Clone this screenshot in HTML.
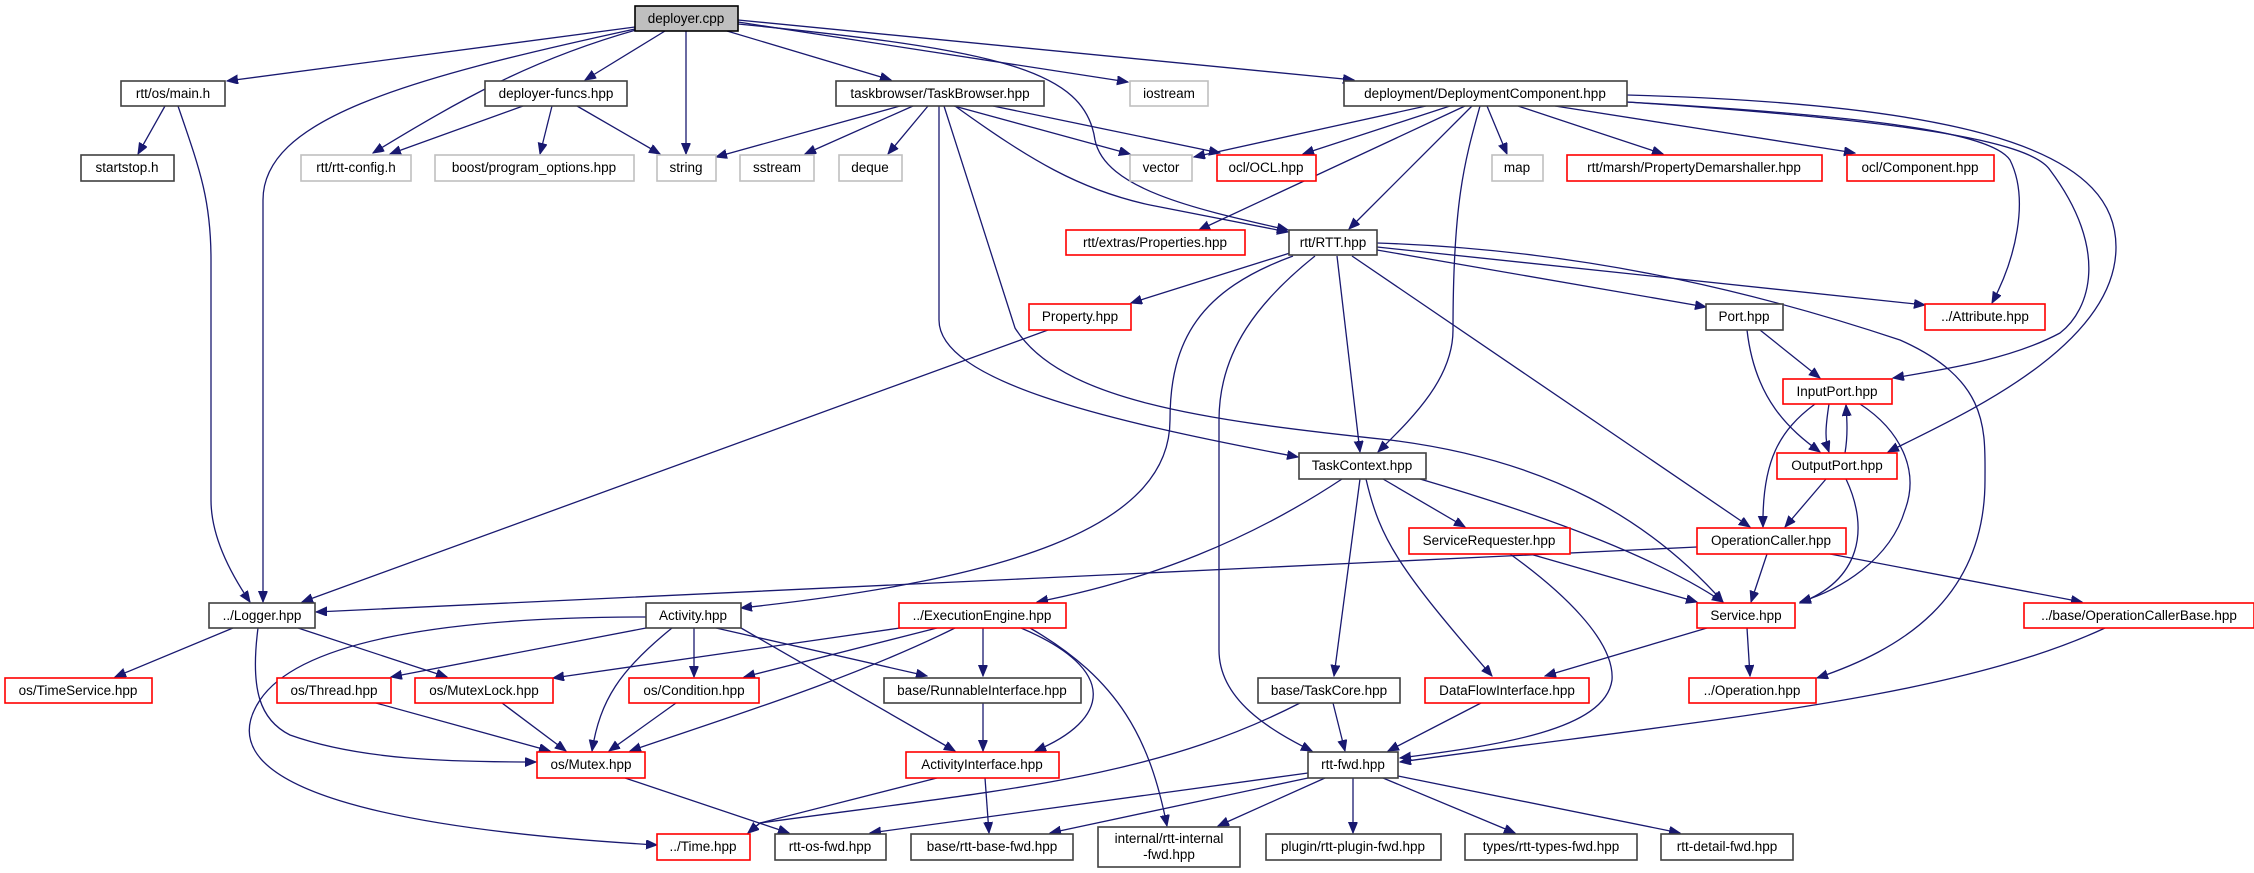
<!DOCTYPE html>
<html><head><meta charset="utf-8"><style>
html,body{margin:0;padding:0;background:#fff;}
svg{display:block;}
text{font-family:"Liberation Sans",sans-serif;font-size:13.5px;fill:#000;text-anchor:middle;}
.k{fill:#fff;stroke:#404040;stroke-width:1.6;}
.g{fill:#fff;stroke:#bfbfbf;stroke-width:1.6;}
.r{fill:#fff;stroke:#ff0000;stroke-width:1.6;}
.e path{fill:none;stroke:#191970;stroke-width:1.3;marker-end:url(#a);}
</style></head><body>
<svg width="2254" height="873" viewBox="0 0 2254 873" xmlns="http://www.w3.org/2000/svg">
<defs><marker id="a" markerUnits="userSpaceOnUse" markerWidth="12" markerHeight="10" refX="11" refY="4.5" orient="auto"><path d="M0,0 L11,4.5 L0,9 z" fill="#191970" stroke="#191970"/></marker></defs>
<g class="e">
<path d="M635,27 L227,81"/>
<path d="M635,29 C400,80 263,120 263,200 L263,602"/>
<path d="M178,106 C200,170 211,200 211,260 L211,500 C211,540 235,580 250,602"/>
<path d="M636,30 C530,60 460,100 373,153"/>
<path d="M665,31 L585,80"/>
<path d="M686,31 L686,154"/>
<path d="M727,31 L891,80"/>
<path d="M738,22 L1128,82"/>
<path d="M738,20 L1354,80"/>
<path d="M738,24 C1000,50 1085,70 1095,140 C1105,190 1200,210 1288,230"/>
<path d="M165,106 L138,154"/>
<path d="M523,106 L390,154"/>
<path d="M552,106 L540,154"/>
<path d="M577,106 L660,154"/>
<path d="M900,106 L716,157"/>
<path d="M913,106 L805,154"/>
<path d="M928,106 L888,154"/>
<path d="M954,106 L1130,154"/>
<path d="M993,106 L1220,153"/>
<path d="M955,106 C1030,160 1080,190 1150,205 L1288,232"/>
<path d="M939,106 L939,320 C939,380 1100,420 1298,457"/>
<path d="M944,106 L1015,328 C1060,400 1200,420 1390,440 C1550,460 1650,520 1723,602"/>
<path d="M1426,106 L1194,157"/>
<path d="M1450,106 L1303,154"/>
<path d="M1465,106 L1199,230"/>
<path d="M1472,106 L1349,229"/>
<path d="M1480,106 C1465,160 1453,200 1453,330 C1453,380 1410,420 1378,452"/>
<path d="M1487,106 L1507,154"/>
<path d="M1518,106 L1663,154"/>
<path d="M1555,106 L1855,153"/>
<path d="M1627,102 C1850,115 1990,130 2010,160 C2030,200 2015,260 1992,303"/>
<path d="M1627,102 C1900,120 2030,140 2050,170 C2110,250 2090,310 2060,333 C2010,360 1940,370 1893,378"/>
<path d="M1627,95 C2000,105 2116,160 2116,247 C2116,350 1950,420 1888,452"/>
<path d="M1290,253 L1131,303"/>
<path d="M1293,256 C1200,290 1170,340 1170,420 C1170,530 1000,580 741,608"/>
<path d="M1315,256 C1260,300 1219,350 1219,420 L1219,650 C1219,700 1270,730 1312,751"/>
<path d="M1337,256 L1360,452"/>
<path d="M1377,250 L1706,307"/>
<path d="M1377,247 L1925,305"/>
<path d="M1377,243 C1600,250 1780,300 1900,340 C1990,380 1985,430 1985,480 C1985,600 1900,650 1817,678"/>
<path d="M1352,256 L1750,527"/>
<path d="M1760,330 L1820,378"/>
<path d="M1747,330 C1755,400 1790,430 1820,452"/>
<path d="M1829,404 C1825,430 1825,440 1829,452"/>
<path d="M1845,453 C1848,435 1847,420 1846,405"/>
<path d="M1815,404 C1780,430 1762,460 1763,527"/>
<path d="M1860,404 C1900,430 1920,470 1905,510 C1890,560 1840,590 1800,602"/>
<path d="M1826,479 L1785,527"/>
<path d="M1846,479 C1870,530 1860,580 1800,603"/>
<path d="M1383,479 L1465,527"/>
<path d="M1420,479 C1560,520 1660,560 1723,602"/>
<path d="M1342,479 C1250,540 1150,580 1037,602"/>
<path d="M1360,479 L1334,676"/>
<path d="M1366,479 C1380,540 1400,570 1492,676"/>
<path d="M1530,554 L1697,602"/>
<path d="M1510,554 C1560,590 1615,640 1612,680 C1605,730 1500,745 1400,758"/>
<path d="M1697,547 C1300,565 700,595 316,612"/>
<path d="M1767,554 L1751,602"/>
<path d="M1830,554 L2082,602"/>
<path d="M1707,628 L1545,676"/>
<path d="M1747,628 L1750,676"/>
<path d="M2105,628 C1950,700 1700,720 1400,762"/>
<path d="M1481,703 L1388,751"/>
<path d="M1333,703 L1345,751"/>
<path d="M1300,703 C1150,780 1000,790 760,823 L748,833"/>
<path d="M1048,330 L302,602"/>
<path d="M900,628 L553,678"/>
<path d="M937,628 L744,677"/>
<path d="M955,628 C850,680 720,720 630,751"/>
<path d="M983,628 L983,676"/>
<path d="M1021,628 C1120,670 1110,720 1035,751"/>
<path d="M1030,628 C1120,680 1150,740 1167,826"/>
<path d="M646,628 L391,677"/>
<path d="M672,628 C620,670 600,700 592,751"/>
<path d="M694,628 L694,677"/>
<path d="M716,628 L927,676"/>
<path d="M741,628 L955,751"/>
<path d="M646,617 C450,617 300,640 260,700 C200,790 400,830 657,845"/>
<path d="M233,628 L115,677"/>
<path d="M298,628 L447,677"/>
<path d="M258,628 C250,690 260,720 290,735 C360,760 450,762 536,762"/>
<path d="M376,703 L550,751"/>
<path d="M502,703 L566,751"/>
<path d="M676,703 L609,751"/>
<path d="M983,703 L983,751"/>
<path d="M937,778 L760,823 L748,833"/>
<path d="M625,778 L789,833"/>
<path d="M985,778 L989,833"/>
<path d="M1308,773 L870,833"/>
<path d="M1308,778 L1050,833"/>
<path d="M1325,778 L1218,826"/>
<path d="M1353,778 L1353,833"/>
<path d="M1383,778 L1515,833"/>
<path d="M1398,776 L1680,833"/>
</g>
<g>
<rect x="635" y="6" width="103" height="25" fill="#bfbfbf" stroke="#000" stroke-width="1.6"/><text x="686" y="23">deployer.cpp</text>
<rect class="k" x="121" y="81" width="104" height="25"/><text x="173" y="98">rtt/os/main.h</text>
<rect class="k" x="485" y="81" width="142" height="25"/><text x="556" y="98">deployer-funcs.hpp</text>
<rect class="k" x="836" y="81" width="208" height="25"/><text x="940" y="98">taskbrowser/TaskBrowser.hpp</text>
<rect class="g" x="1130" y="81" width="78" height="25"/><text x="1169" y="98">iostream</text>
<rect class="k" x="1344" y="81" width="283" height="25"/><text x="1485" y="98">deployment/DeploymentComponent.hpp</text>
<rect class="k" x="81" y="155" width="93" height="26"/><text x="127" y="172">startstop.h</text>
<rect class="g" x="301" y="155" width="110" height="26"/><text x="356" y="172">rtt/rtt-config.h</text>
<rect class="g" x="435" y="155" width="199" height="26"/><text x="534" y="172">boost/program_options.hpp</text>
<rect class="g" x="657" y="155" width="59" height="26"/><text x="686" y="172">string</text>
<rect class="g" x="740" y="155" width="74" height="26"/><text x="777" y="172">sstream</text>
<rect class="g" x="839" y="155" width="63" height="26"/><text x="870" y="172">deque</text>
<rect class="g" x="1130" y="155" width="62" height="26"/><text x="1161" y="172">vector</text>
<rect class="r" x="1217" y="155" width="99" height="26"/><text x="1266" y="172">ocl/OCL.hpp</text>
<rect class="g" x="1492" y="155" width="51" height="26"/><text x="1517" y="172">map</text>
<rect class="r" x="1567" y="155" width="255" height="26"/><text x="1694" y="172">rtt/marsh/PropertyDemarshaller.hpp</text>
<rect class="r" x="1847" y="155" width="147" height="26"/><text x="1920" y="172">ocl/Component.hpp</text>
<rect class="r" x="1066" y="230" width="179" height="25"/><text x="1155" y="247">rtt/extras/Properties.hpp</text>
<rect class="k" x="1289" y="230" width="88" height="25"/><text x="1333" y="247">rtt/RTT.hpp</text>
<rect class="r" x="1029" y="304" width="102" height="26"/><text x="1080" y="321">Property.hpp</text>
<rect class="k" x="1706" y="304" width="77" height="26"/><text x="1744" y="321">Port.hpp</text>
<rect class="r" x="1925" y="304" width="120" height="26"/><text x="1985" y="321">../Attribute.hpp</text>
<rect class="r" x="1783" y="379" width="109" height="25"/><text x="1837" y="396">InputPort.hpp</text>
<rect class="k" x="1299" y="453" width="127" height="26"/><text x="1362" y="470">TaskContext.hpp</text>
<rect class="r" x="1777" y="453" width="120" height="26"/><text x="1837" y="470">OutputPort.hpp</text>
<rect class="r" x="1409" y="528" width="161" height="26"/><text x="1489" y="545">ServiceRequester.hpp</text>
<rect class="r" x="1697" y="528" width="149" height="26"/><text x="1771" y="545">OperationCaller.hpp</text>
<rect class="k" x="209" y="603" width="106" height="25"/><text x="262" y="620">../Logger.hpp</text>
<rect class="k" x="646" y="603" width="95" height="25"/><text x="693" y="620">Activity.hpp</text>
<rect class="r" x="899" y="603" width="167" height="25"/><text x="982" y="620">../ExecutionEngine.hpp</text>
<rect class="r" x="1697" y="603" width="98" height="25"/><text x="1746" y="620">Service.hpp</text>
<rect class="r" x="2024" y="603" width="230" height="25"/><text x="2139" y="620">../base/OperationCallerBase.hpp</text>
<rect class="r" x="5" y="678" width="147" height="25"/><text x="78" y="695">os/TimeService.hpp</text>
<rect class="r" x="277" y="678" width="114" height="25"/><text x="334" y="695">os/Thread.hpp</text>
<rect class="r" x="415" y="678" width="138" height="25"/><text x="484" y="695">os/MutexLock.hpp</text>
<rect class="r" x="629" y="678" width="130" height="25"/><text x="694" y="695">os/Condition.hpp</text>
<rect class="k" x="884" y="678" width="197" height="25"/><text x="982" y="695">base/RunnableInterface.hpp</text>
<rect class="k" x="1258" y="678" width="142" height="25"/><text x="1329" y="695">base/TaskCore.hpp</text>
<rect class="r" x="1425" y="678" width="164" height="25"/><text x="1507" y="695">DataFlowInterface.hpp</text>
<rect class="r" x="1689" y="678" width="127" height="25"/><text x="1752" y="695">../Operation.hpp</text>
<rect class="r" x="537" y="752" width="108" height="26"/><text x="591" y="769">os/Mutex.hpp</text>
<rect class="r" x="906" y="752" width="153" height="26"/><text x="982" y="769">ActivityInterface.hpp</text>
<rect class="k" x="1308" y="752" width="90" height="26"/><text x="1353" y="769">rtt-fwd.hpp</text>
<rect class="r" x="657" y="834" width="93" height="26"/><text x="703" y="851">../Time.hpp</text>
<rect class="k" x="775" y="834" width="111" height="26"/><text x="830" y="851">rtt-os-fwd.hpp</text>
<rect class="k" x="911" y="834" width="162" height="26"/><text x="992" y="851">base/rtt-base-fwd.hpp</text>
<rect class="k" x="1098" y="827" width="142" height="40"/><text x="1169" y="843">internal/rtt-internal</text><text x="1169" y="859">-fwd.hpp</text>
<rect class="k" x="1266" y="834" width="175" height="26"/><text x="1353" y="851">plugin/rtt-plugin-fwd.hpp</text>
<rect class="k" x="1465" y="834" width="172" height="26"/><text x="1551" y="851">types/rtt-types-fwd.hpp</text>
<rect class="k" x="1661" y="834" width="132" height="26"/><text x="1727" y="851">rtt-detail-fwd.hpp</text>
</g>
</svg>
</body></html>
